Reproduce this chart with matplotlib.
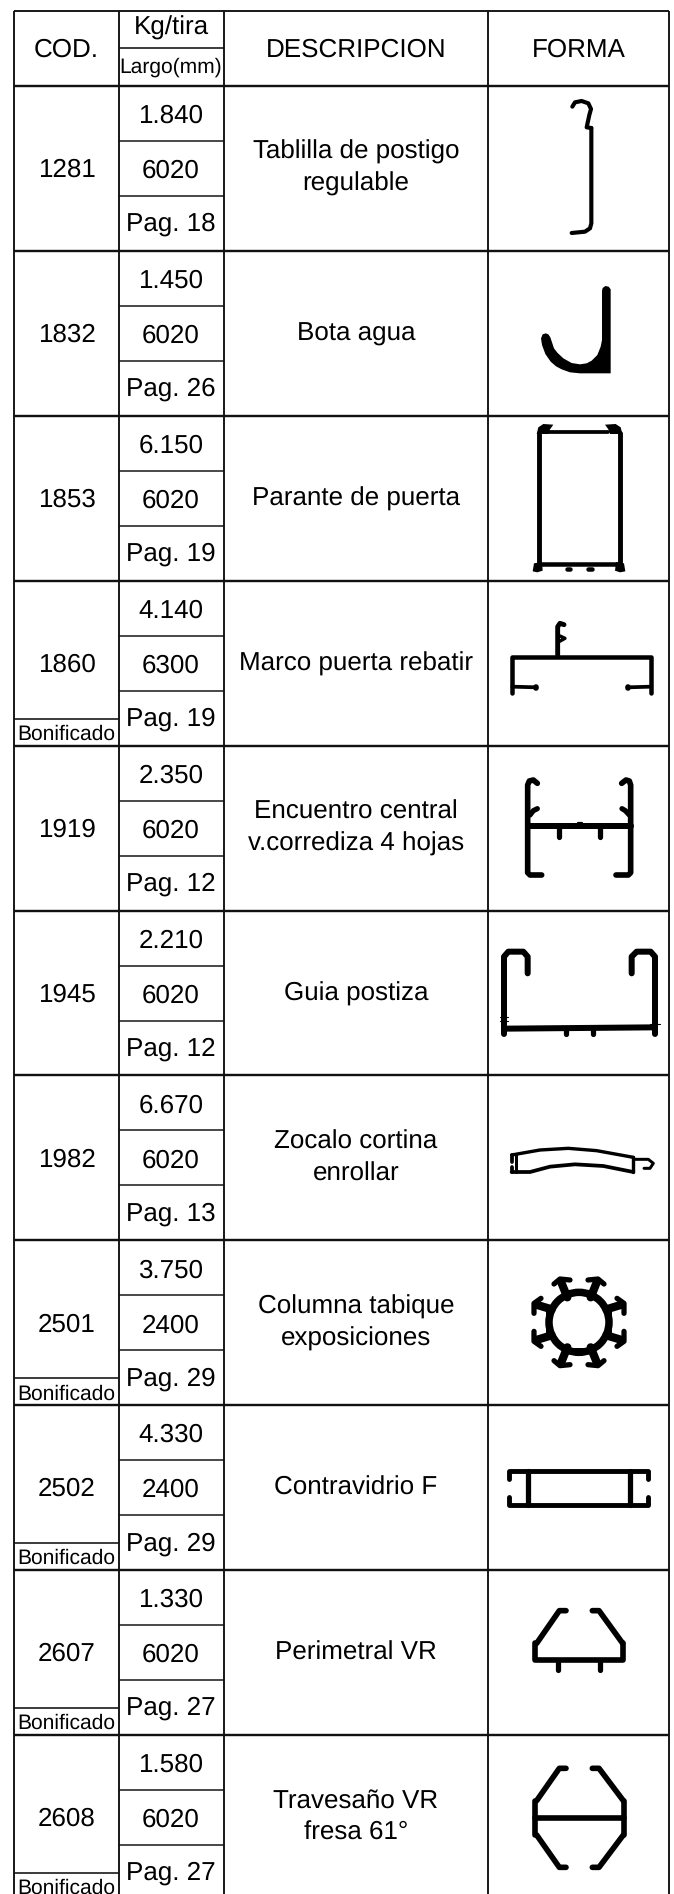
import matplotlib
matplotlib.use("Agg")
import matplotlib.pyplot as plt
from matplotlib.patches import Polygon, Circle

plt.rcParams['font.family'] = ['Liberation Sans', 'DejaVu Sans']
plt.rcParams['text.hinting'] = 'no_hinting'
plt.rcParams['text.hinting_factor'] = 1

# datos de la tabla
codes = ["1281", "1832", "1853", "1860", "1919", "1945", "1982", "2501", "2502", "2607", "2608"]
kg_tira = ["1.840", "1.450", "6.150", "4.140", "2.350", "2.210", "6.670", "3.750", "4.330", "1.330", "1.580"]
largo = ["6020", "6020", "6020", "6300", "6020", "6020", "6020", "2400", "2400", "6020", "6020"]
pagina = ["Pag. 18", "Pag. 26", "Pag. 19", "Pag. 19", "Pag. 12", "Pag. 12", "Pag. 13", "Pag. 29", "Pag. 29", "Pag. 27", "Pag. 27"]
descripcion = ["Tablilla de postigo\nregulable", "Bota agua", "Parante de puerta", "Marco puerta rebatir",
               "Encuentro central\nv.corrediza 4 hojas", "Guia postiza", "Zocalo cortina\nenrollar",
               "Columna tabique\nexposiciones", "Contravidrio F", "Perimetral VR", "Travesaño VR\nfresa 61°"]
bonificado = [False, False, False, True, False, False, False, True, True, True, True]
headers = ["COD.", "Kg/tira", "Largo(mm)", "DESCRIPCION", "FORMA"]

# geometria en pixeles
W, H = 674, 1894
col_x = [14.3, 118.8, 223.6, 488.4, 669.2]
top_y = 10.5
head_mid = 48
head_bot = 86
row_h = 164.9
fs = 18.7
line_col = "#111111"

fig = plt.figure(figsize=(W / 100, H / 100), dpi=100)
ax = fig.add_axes([0, 0, 1, 1])
ax.set_xlim(0, W)
ax.set_ylim(H, 0)
ax.axis("off")


def hline(y, x0, x1, lw=1.5):
    ax.plot([x0, x1], [y, y], color=line_col, lw=lw * 0.72, solid_capstyle="butt")


def vline(x, y0, y1, lw=1.5):
    ax.plot([x, x], [y0, y1], color=line_col, lw=lw * 0.72, solid_capstyle="butt")


def txt(x, y, s, size=fs):
    ax.text(x, y, s, ha="center", va="baseline", fontsize=size, color="black")


# rejilla
for x in col_x:
    vline(x, top_y, H, 1.9)
hline(top_y, col_x[0], col_x[-1], 1.9)
hline(head_mid, col_x[1], col_x[2], 1.6)
hline(head_bot, col_x[0], col_x[-1], 2.4)

txt(66.5, 57, headers[0])
txt(171, 35, headers[1])
txt(171, 73, headers[2], 15)
txt(356, 57, headers[3])
txt(579, 57, headers[4])

for i in range(len(codes)):
    y0 = head_bot + i * row_h
    if i < len(codes) - 1:
        hline(y0 + row_h, col_x[0], col_x[-1], 2.4)
    hline(y0 + 55, col_x[1], col_x[2], 1.5)
    hline(y0 + 110, col_x[1], col_x[2], 1.5)
    txt(66.5, y0 + 91, codes[i])
    txt(171, y0 + 37, kg_tira[i])
    txt(171, y0 + 92, largo[i])
    txt(171, y0 + 145, pagina[i])
    lines = descripcion[i].split("\n")
    if len(lines) == 1:
        txt(356, y0 + 90, lines[0])
    else:
        txt(356, y0 + 73, lines[0])
        txt(356, y0 + 105, lines[1])
    if bonificado[i]:
        hline(y0 + 138, col_x[0], col_x[1], 1.6)
        txt(66.5, y0 + 159, "Bonificado", 15)


# perfiles: coordenadas en pixeles del recorte ampliado x3
def stroke(ox, oy, pts, lw):
    xs = [ox + p[0] / 3 for p in pts]
    ys = [oy + p[1] / 3 for p in pts]
    ax.plot(xs, ys, color="black", lw=lw * 0.27, solid_capstyle="round", solid_joinstyle="round")


def fill(ox, oy, pts):
    ax.add_patch(Polygon([(ox + p[0] / 3, oy + p[1] / 3) for p in pts], closed=True, fc="black", ec="none"))


# 1281
stroke(540, 85, [(97, 65), (105, 52), (125, 48), (145, 55), (153, 72), (148, 90), (140, 127), (154, 129)], 11)
stroke(540, 85, [(154, 129), (154, 415), (150, 430), (135, 440), (95, 444)], 11)

# 1832
fill(480, 250, [(183, 265), (186, 285), (196, 312), (212, 335), (228, 349), (245, 358), (270, 367), (300, 370),
                (392, 370), (392, 118), (386, 110), (376, 108), (368, 114), (366, 122), (366, 270), (362, 290),
                (352, 315), (335, 332), (320, 340), (300, 343), (275, 339), (250, 325), (232, 308), (222, 295),
                (211, 262), (205, 253), (197, 250), (188, 253)])

# 1853
stroke(480, 250, [(176, 550), (176, 945)], 13)
stroke(480, 250, [(419, 550), (419, 945)], 13)
stroke(480, 250, [(176, 943), (419, 943)], 12)
stroke(480, 250, [(205, 546), (385, 546)], 10)
fill(480, 250, [(170, 552), (175, 532), (190, 522), (220, 524), (210, 538), (205, 552)])
fill(480, 250, [(427, 552), (422, 532), (407, 522), (375, 524), (385, 538), (390, 552)])
fill(480, 250, [(162, 940), (186, 936), (188, 962), (172, 967), (158, 964)])
fill(480, 250, [(432, 940), (408, 936), (405, 962), (420, 967), (436, 964)])
stroke(480, 250, [(260, 957), (270, 957)], 12)
stroke(480, 250, [(325, 957), (335, 957)], 12)

# 1860
stroke(480, 580, [(97, 338), (97, 232), (514, 232), (514, 338)], 12)
stroke(480, 580, [(97, 320), (168, 322)], 10)
stroke(480, 580, [(443, 322), (514, 320)], 10)
stroke(480, 580, [(168, 322), (168, 323)], 15)
stroke(480, 580, [(443, 322), (443, 323)], 15)
stroke(480, 580, [(233, 225), (233, 140), (240, 130), (252, 134)], 13)
stroke(480, 580, [(237, 185), (255, 175), (240, 168)], 9)

# 1919
stroke(480, 580, [(172, 610), (160, 600), (148, 603), (143, 615), (143, 878), (150, 885), (185, 885)], 15)
stroke(480, 580, [(425, 610), (438, 600), (448, 603), (452, 615), (452, 878), (445, 885), (408, 885)], 15)
stroke(480, 580, [(170, 615), (170, 616)], 17)
stroke(480, 580, [(428, 615), (428, 616)], 17)
stroke(480, 580, [(150, 705), (160, 692), (172, 686)], 14)
stroke(480, 580, [(448, 705), (436, 692), (426, 686)], 14)
stroke(480, 580, [(145, 738), (452, 738)], 16)
stroke(480, 580, [(236, 740), (236, 772)], 14)
stroke(480, 580, [(359, 740), (359, 772)], 14)
stroke(480, 580, [(295, 728), (307, 728)], 6)

# 1945
stroke(480, 910, [(143, 190), (143, 140), (130, 125), (85, 125), (72, 140), (72, 372)], 16)
stroke(480, 910, [(455, 190), (455, 140), (470, 125), (512, 125), (525, 140), (525, 372)], 16)
stroke(480, 910, [(72, 356), (525, 352)], 16)
stroke(480, 910, [(257, 360), (257, 372)], 14)
stroke(480, 910, [(338, 360), (338, 372)], 14)
stroke(480, 910, [(60, 320), (85, 320)], 3)
stroke(480, 910, [(60, 332), (85, 332)], 3)
stroke(480, 910, [(510, 342), (540, 342)], 3)

# 1982
stroke(480, 910, [(95, 735), (180, 720), (265, 715), (350, 722), (460, 742)], 9)
stroke(480, 910, [(95, 786), (150, 786), (210, 770), (285, 763), (370, 768), (460, 786)], 10)
stroke(480, 910, [(97, 735), (97, 755)], 10)
stroke(480, 910, [(97, 770), (97, 786)], 10)
stroke(480, 910, [(108, 735), (108, 786)], 8)
stroke(480, 910, [(460, 742), (460, 786)], 9)
stroke(480, 910, [(462, 748), (505, 748), (520, 760), (510, 775), (492, 775)], 8)

# 2501
ax.add_patch(Circle((480 + 297 / 3, 1240 + 247 / 3), 90 / 3, fc="none", ec="black", lw=20 * 0.27))
for sx in (1, -1):
    for sy in (1, -1):
        mx = (lambda v: v) if sx == 1 else (lambda v: 594 - v)
        my = (lambda v: v) if sy == 1 else (lambda v: 494 - v)
        stroke(480, 1240, [(mx(262), my(172)), (mx(243), my(125))], 22)
        stroke(480, 1240, [(mx(222), my(132)), (mx(240), my(117)), (mx(270), my(120))], 14)
        stroke(480, 1240, [(mx(215), my(208)), (mx(172), my(195))], 22)
        stroke(480, 1240, [(mx(162), my(220)), (mx(162), my(190)), (mx(183), my(175))], 14)
        stroke(480, 1240, [(mx(262), my(160)), (mx(297), my(160))], 16)
        stroke(480, 1240, [(mx(208), my(212)), (mx(208), my(247))], 16)

# 2502
stroke(480, 1240, [(88, 718), (88, 692), (505, 692), (505, 718)], 13)
stroke(480, 1240, [(88, 772), (88, 795), (505, 795), (505, 772)], 13)
stroke(480, 1240, [(145, 692), (145, 795)], 14)
stroke(480, 1240, [(450, 692), (450, 795)], 14)

# 2607
stroke(480, 1570, [(258, 122), (238, 122), (170, 220)], 15)
stroke(480, 1570, [(337, 122), (357, 122), (428, 220)], 15)
stroke(480, 1570, [(165, 218), (165, 271), (430, 271), (430, 218)], 15)
stroke(480, 1570, [(235, 275), (235, 300)], 14)
stroke(480, 1570, [(360, 275), (360, 300)], 14)

# 2608
stroke(480, 1570, [(258, 595), (238, 595), (170, 692)], 15)
stroke(480, 1570, [(337, 595), (357, 595), (430, 692)], 15)
stroke(480, 1570, [(258, 892), (238, 892), (170, 795)], 15)
stroke(480, 1570, [(337, 892), (357, 892), (430, 795)], 15)
stroke(480, 1570, [(165, 692), (165, 795)], 15)
stroke(480, 1570, [(432, 692), (432, 795)], 15)
stroke(480, 1570, [(165, 743), (432, 743)], 15)

fig.savefig("out.png", dpi=100)
